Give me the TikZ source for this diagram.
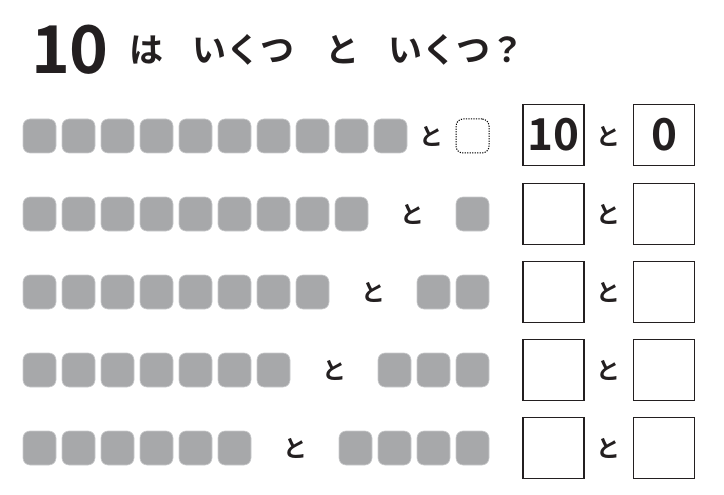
\documentclass[tikz,border=0pt]{standalone}
\usepackage{fontspec}
\usetikzlibrary{positioning}
\newfontfamily\jpfont{Noto Sans CJK JP}[BoldFont={Noto Sans CJK JP Bold}]
\definecolor{chipgray}{HTML}{A7A8AA}
\definecolor{chipedge}{HTML}{C9CACC}
\definecolor{inkblack}{HTML}{231F20}

\begin{document}
\begin{tikzpicture}[x=1pt,y=-1pt,
    chip/.style={fill=chipgray,draw=chipedge,line width=0.6pt,rounded corners=7pt,
      minimum width=33pt,minimum height=34pt,inner sep=0pt},
    blank/.style={draw=black,dash pattern=on 1.2pt off 1.3pt,line width=1pt,rounded corners=7pt,
      minimum width=33pt,minimum height=34pt,inner sep=0pt},
    ansbox/.style={draw=inkblack,line width=1.1pt,minimum size=61pt,inner sep=0pt,
      text=inkblack,font=\jpfont\bfseries\fontsize{44}{44}\selectfont},
    andlbl/.style={text=inkblack,inner sep=0pt,font=\jpfont\bfseries\fontsize{24}{24}\selectfont},
    title/.style={text=inkblack,inner sep=0pt,font=\jpfont\bfseries\fontsize{34}{34}\selectfont}]
    \useasboundingbox (0,0) rectangle (724,495);
    % title
    \node[text=inkblack,inner sep=0pt,font=\jpfont\bfseries\fontsize{66}{66}\selectfont] (ten) at (70,50) {10};
    \node[title] (ha) at (146,50) {は};
    \node[title] (q1) at (243,50) {いくつ};
    \node[title] (tt) at (342,50) {と};
    \node[title] (q2) at (456,50) {いくつ？};
    % first row: 10 and 0
    \foreach \i in {1,...,10}
      \node[chip] (c1-\i) at ({39.5+39*(\i-1)},136) {};
    \node[andlbl] (and1) at (431.5,136) {と};
    \node[blank] (d1) at (472.5,136) {};
    \node[ansbox] (a1) at (553.5,135) {10};
    \node[andlbl] (b1) at (608,136) {と};
    \node[ansbox] (e1) at (664,135) {0};
    % other rows
    \foreach \n [count=\r from 2, evaluate=\r as \y using {136+78*(\r-1)},
                 evaluate=\n as \m using int(10-\n)] in {9,8,7,6} {
      \foreach \i in {1,...,\n}
        \node[chip] (c\r-\i) at ({39.5+39*(\i-1)},\y) {};
      \foreach \j in {1,...,\m}
        \node[chip] (d\r-\j) at ({472.5-39*(\m-\j)},\y) {};
      \node[andlbl] (and\r) at ({(39*\n+17+456-39*(\m-1))/2},\y) {と};
      \node[ansbox] (a\r) at (553.5,\y) {};
      \node[andlbl] (b\r) at (608,\y) {と};
      \node[ansbox] (e\r) at (664,\y) {};
    }
\end{tikzpicture}
\end{document}
